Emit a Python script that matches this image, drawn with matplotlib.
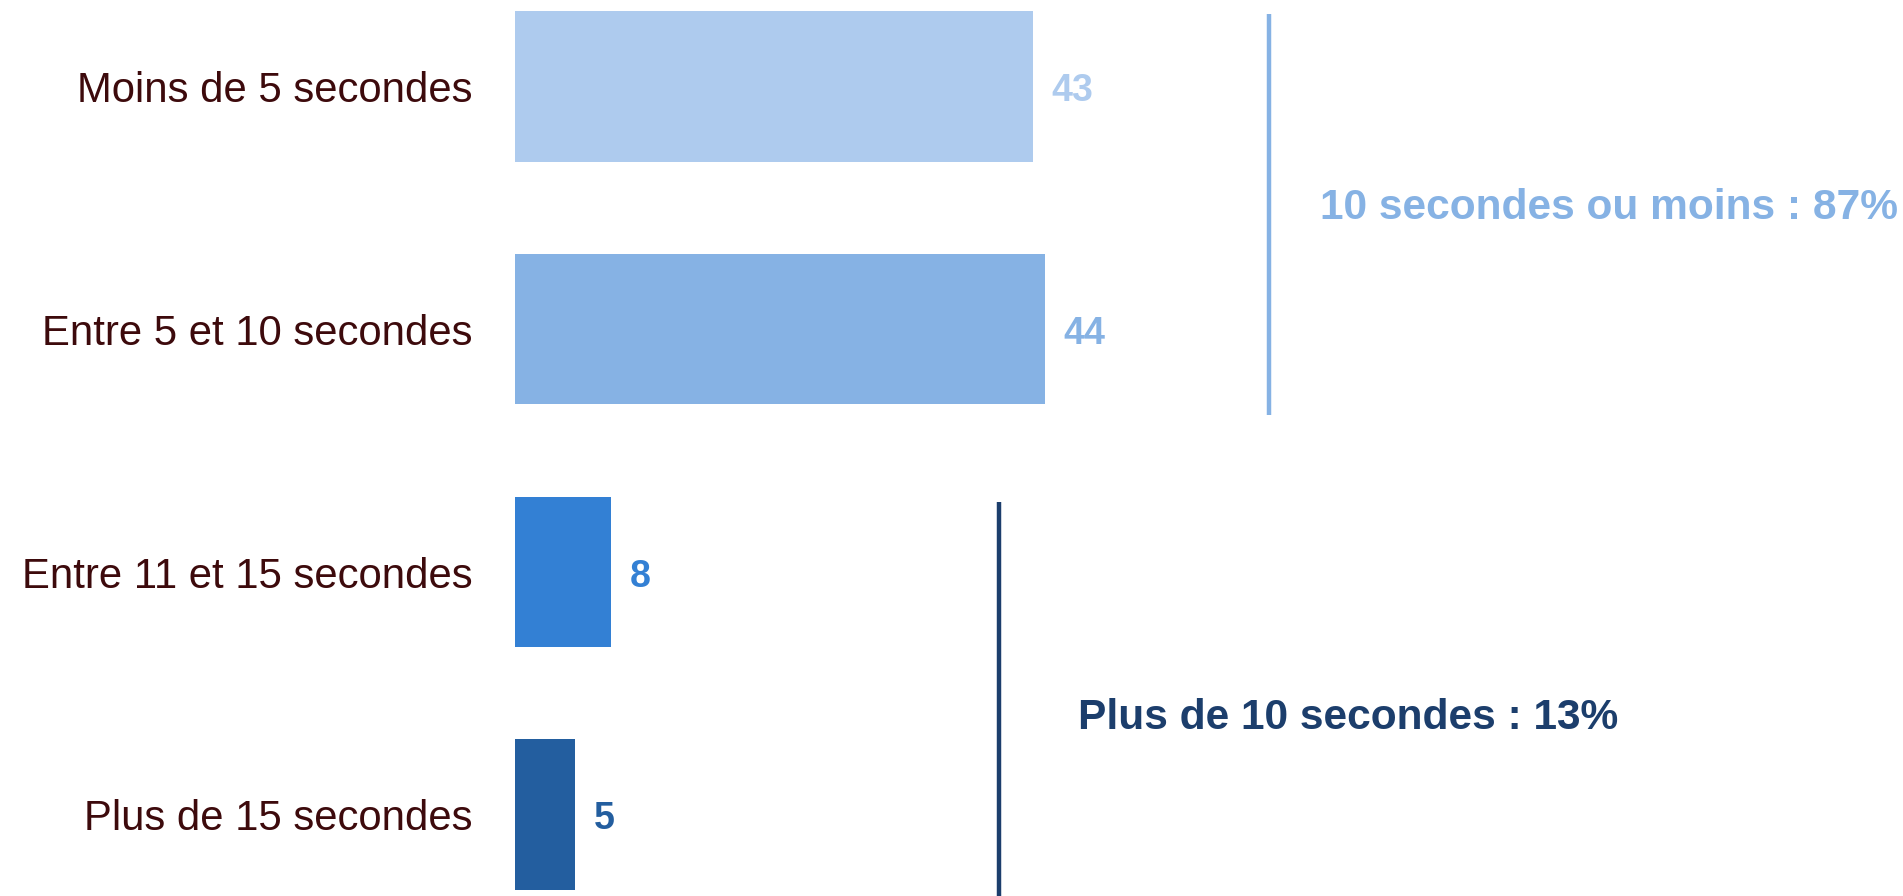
import matplotlib
matplotlib.use("Agg")
import matplotlib.pyplot as plt

plt.rcParams["font.family"] = ["Liberation Sans", "DejaVu Sans"]

# Survey answers: time taken, share of respondents (%)
categories = ["Moins de 5 secondes", "Entre 5 et 10 secondes",
              "Entre 11 et 15 secondes", "Plus de 15 secondes"]
values = [43, 44, 8, 5]
bar_colors = ["#aecbee", "#86b2e4", "#3380d4", "#235e9f"]

# Groupings shown as brackets on the right
group_names = ["10 secondes ou moins", "Plus de 10 secondes"]
group_members = [[0, 1], [2, 3]]
group_colors = ["#86b2e4", "#1c3e6c"]
label_color = "#3d0a0c"

W, H, DPI = 1903, 896, 100
fig = plt.figure(figsize=(W / DPI, H / DPI), dpi=DPI)
ax = fig.add_axes([0, 0, 1, 1])

px_per_unit = 12.05
x0 = 515
ax.set_xlim(-x0 / px_per_unit, (W - x0) / px_per_unit)
pitch = 242.7
y0 = 86.5
ax.set_ylim((H - y0) / pitch, -y0 / pitch)

ypos = list(range(len(categories)))
ax.barh(ypos, values, height=0.62, color=bar_colors, linewidth=0)

dy = 0.02  # text sits a touch below the bar centre
for y, v, c in zip(ypos, values, bar_colors):
    ax.text(v + 1.5, y + dy, f"{v}", ha="left", va="center",
            fontsize=27, fontweight="bold", color=c)

for y, name in zip(ypos, categories):
    ax.text(-3.5, y + dy, name, ha="right", va="center",
            fontsize=30.2, color=label_color)

# Bracket lines and group totals
bracket_x = [62.6, 40.2]
bracket_y = [(-0.30, 1.355), (1.71, 3.6)]
text_x = [66.8, 46.7]
text_y = [0.50, 2.60]
for members, name, col, bx, (ya, yb), tx, ty in zip(
        group_members, group_names, group_colors,
        bracket_x, bracket_y, text_x, text_y):
    total = sum(values[i] for i in members)
    ax.plot([bx, bx], [ya, yb], color=col, linewidth=3.2,
            solid_capstyle="butt", clip_on=False)
    ax.text(tx, ty, f"{name} : {total}%", ha="left", va="center",
            fontsize=30.6, fontweight="bold", color=col)

ax.axis("off")
fig.savefig("out.png", dpi=DPI, facecolor="white")
